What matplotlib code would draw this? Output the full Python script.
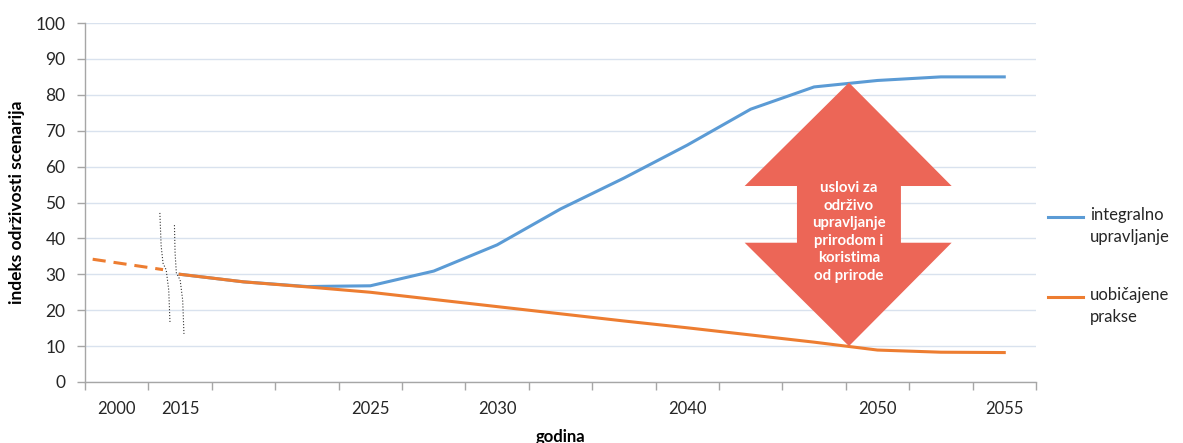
import matplotlib.pyplot as plt
from matplotlib.patches import Polygon
import numpy as np

plt.rcParams['font.family'] = ['Lato', 'DejaVu Sans']

# category axis: one slot per period, only some are labelled
categories = ["2000", "2015", "", "", "2025", "", "2030", "", "",
              "2040", "", "", "2050", "", "2055"]
integralno = [np.nan, 30, 27.9, 26.6, 26.8, 30.9, 38.2, 48.2, 56.8,
              66, 76, 82.2, 84, 85, 85]
uobicajene = [np.nan, 30, 27.9, 26.5, 25, 23, 21, 19, 17,
              15.1, 13.1, 11.1, 8.9, 8.3, 8.2]

# dashed back-projection of the usual-practice curve
past_x = [-0.38, 0.73]
past_y = [34.2, 31.3]

# broken-axis squiggles near 2015
break1_x = [0.68, 0.70, 0.73, 0.78, 0.82, 0.84]
break1_y = [47.1, 38.0, 33.1, 31.2, 25.6, 16.4]
break2_x = [0.91, 0.92, 0.94, 1.0, 1.04, 1.06]
break2_y = [43.7, 36.0, 30.4, 28.4, 22.8, 13.4]

# double-headed arrow between the two scenarios
arrow_x = [11.55, 13.17, 12.37, 12.37, 13.17, 11.55, 9.905, 10.73, 10.73, 9.905]
arrow_y = [83.4, 54.6, 54.6, 38.8, 38.8, 10.0, 38.8, 38.8, 54.6, 54.6]
arrow_text = "uslovi za\nodrživo\nupravljanje\nprirodom i\nkoristima\nod prirode"

blue = '#5B9BD5'
orange = '#ED7D31'
grid_col = '#D9E2EE'
axis_col = '#A6A6A6'

fig = plt.figure(figsize=(11.83, 4.43), dpi=100)
ax = fig.add_axes([0.0719, 0.1377, 0.8038, 0.8103])

x = np.arange(len(categories))
ax.plot(x, integralno, color=blue, lw=2.2, solid_joinstyle='round', zorder=3)
ax.plot(x, uobicajene, color=orange, lw=2.2, solid_joinstyle='round', zorder=4)
ax.plot(past_x, past_y, color=orange, lw=2.2, dashes=(4.3, 2.6), zorder=4)

ax.plot(break1_x, break1_y, color='#333333', lw=0.8, ls=':', zorder=5)
ax.plot(break2_x, break2_y, color='#333333', lw=0.8, ls=':', zorder=5)

ax.add_patch(Polygon(list(zip(arrow_x, arrow_y)), closed=True,
                     facecolor='#EC6657', edgecolor='none', zorder=6))
ax.text(11.55, 41.8, arrow_text, color='white', fontweight='bold',
        fontsize=10.8, ha='center', va='center', linespacing=1.32, zorder=7)

ax.set_xlim(-0.5, len(categories) - 0.5)
ax.set_ylim(0, 100)
ax.set_yticks(np.arange(0, 101, 10))
ax.set_xticks(x)
ax.set_xticklabels(categories)
ax.set_xticks(np.arange(-0.5, len(categories), 1), minor=True)
ax.tick_params(axis='x', which='major', length=0, pad=14, labelsize=12,
               labelcolor='#262626')
ax.tick_params(axis='x', which='minor', length=6, color=axis_col, width=1)
ax.tick_params(axis='y', length=6, color=axis_col, width=1, pad=8,
               labelsize=12.5, labelcolor='#262626')
ax.grid(axis='y', color=grid_col, lw=1)
ax.set_axisbelow(True)
for side in ['top', 'right']:
    ax.spines[side].set_visible(False)
for side in ['left', 'bottom']:
    ax.spines[side].set_color(axis_col)
    ax.spines[side].set_linewidth(1)

ax.set_ylabel("indeks održivosti scenarija", fontweight='bold', fontsize=12.5,
              labelpad=8)
ax.set_xlabel("godina", fontweight='bold', fontsize=12, labelpad=8)

# legend entries placed to the right of the plot
for ly, col, label in [(0.46, blue, "integralno\nupravljanje"),
                       (0.236, orange, "uobičajene\nprakse")]:
    ax.plot([1.0123, 1.0494], [ly, ly], transform=ax.transAxes, color=col,
            lw=2.2, clip_on=False)
    ax.text(1.057, ly + 0.028, label, transform=ax.transAxes, fontsize=12,
            va='top', ha='left', linespacing=1.45, color='#262626')

fig.savefig("out.png", dpi=100)
